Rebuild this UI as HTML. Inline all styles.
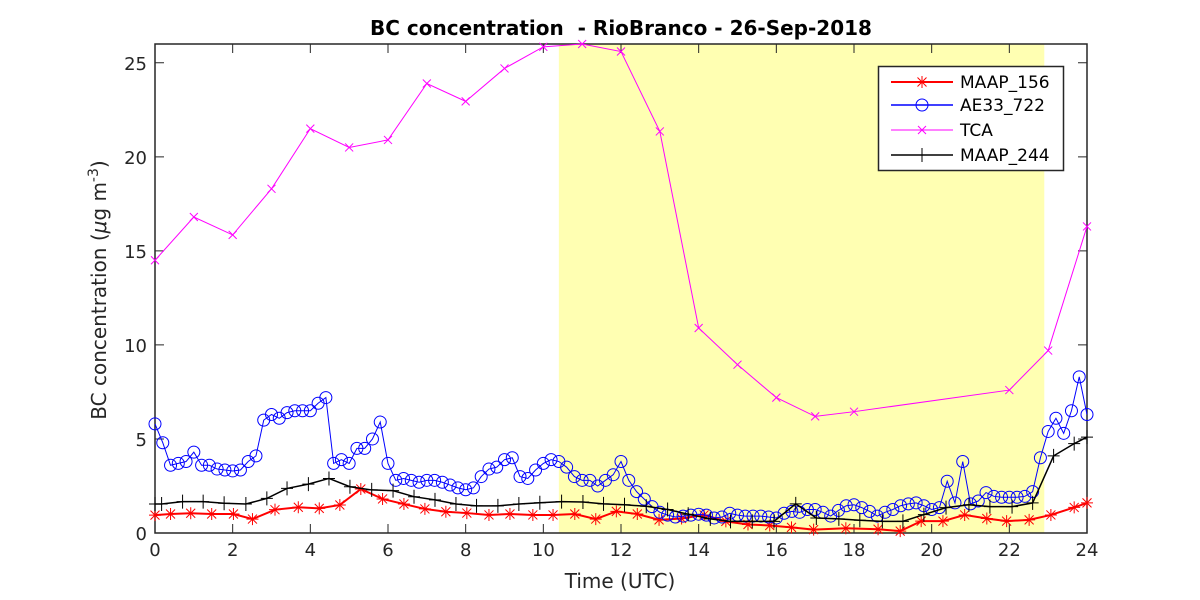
<!DOCTYPE html>
<html><head><meta charset="utf-8"><style>
html,body{margin:0;padding:0;background:#fff;}
svg{display:block;font-family:"DejaVu Sans","Liberation Sans",sans-serif;}
</style></head><body>
<svg id="chart" width="1200" height="600" viewBox="0 0 1200 600" xmlns="http://www.w3.org/2000/svg">
<rect x="0" y="0" width="1200" height="600" fill="#fff"/>
<text x="621" y="35" text-anchor="middle" font-size="20" font-weight="bold">BC concentration &#160;- RioBranco - 26-Sep-2018</text>
<g id="shade"></g>
<g id="axes"></g>
<g id="series"></g>
<text x="620" y="588" text-anchor="middle" font-size="20" fill="#262626">Time (UTC)</text>
<text transform="translate(106,290) rotate(-90)" text-anchor="middle" font-size="20" fill="#262626">BC concentration (<tspan font-style="italic">μ</tspan>g m<tspan dy="-8" font-size="14">-3</tspan><tspan dy="8">)</tspan></text>
<g id="legend"></g>
</svg>
<script>
const xTicks=[0,2,4,6,8,10,12,14,16,18,20,22,24];
const yTicks=[0,5,10,15,20,25];
const shadeRange=[10.4,22.9];
const tBlue=[0,0.2,0.4,0.6,0.8,1,1.2,1.4,1.6,1.8,2,2.2,2.4,2.6,2.8,3,3.2,3.4,3.6,3.8,4,4.2,4.4,4.6,4.8,5,5.2,5.4,5.6,5.8,6,6.2,6.4,6.6,6.8,7,7.2,7.4,7.6,7.8,8,8.2,8.4,8.6,8.8,9,9.2,9.4,9.6,9.8,10,10.2,10.4,10.6,10.8,11,11.2,11.4,11.6,11.8,12,12.2,12.4,12.6,12.8,13,13.2,13.4,13.6,13.8,14,14.2,14.4,14.6,14.8,15,15.2,15.4,15.6,15.8,16,16.2,16.4,16.6,16.8,17,17.2,17.4,17.6,17.8,18,18.2,18.4,18.6,18.8,19,19.2,19.4,19.6,19.8,20,20.2,20.4,20.6,20.8,21,21.2,21.4,21.6,21.8,22,22.2,22.4,22.6,22.8,23,23.2,23.4,23.6,23.8,24];
const vBlue=[5.8,4.8,3.6,3.7,3.8,4.3,3.6,3.6,3.4,3.35,3.3,3.35,3.8,4.1,6.0,6.3,6.1,6.4,6.5,6.5,6.5,6.9,7.2,3.7,3.9,3.7,4.5,4.5,5.0,5.9,3.7,2.8,2.9,2.8,2.7,2.8,2.8,2.7,2.55,2.4,2.3,2.4,3.0,3.4,3.5,3.9,4.0,3.0,2.9,3.35,3.7,3.9,3.8,3.5,3.0,2.8,2.8,2.5,2.8,3.1,3.8,2.8,2.2,1.8,1.4,1.1,0.95,0.85,0.9,0.95,1.0,0.95,0.8,0.85,1.05,0.95,0.9,0.9,0.9,0.85,0.8,1.05,1.15,1.1,1.25,1.25,1.1,0.9,1.2,1.45,1.5,1.35,1.15,0.9,1.1,1.25,1.45,1.55,1.6,1.45,1.25,1.35,2.75,1.6,3.8,1.55,1.7,2.15,1.95,1.9,1.9,1.9,1.95,2.2,4.0,5.4,6.1,5.3,6.5,8.3,6.3];
const tRed=[0,0.4,0.92,1.46,2.02,2.51,3.09,3.69,4.23,4.76,5.3,5.86,6.41,6.95,7.49,8.03,8.6,9.14,9.73,10.25,10.81,11.35,11.88,12.42,12.98,13.56,14.14,14.7,15.27,15.83,16.39,16.96,17.79,18.62,19.19,19.73,20.29,20.85,21.42,21.93,22.51,23.07,23.67,24];
const vRed=[0.95,1.01,1.05,1.01,1.01,0.74,1.24,1.37,1.31,1.49,2.34,1.81,1.54,1.28,1.13,1.06,0.96,1.01,0.96,0.96,1.01,0.74,1.15,1.01,0.7,0.77,0.96,0.62,0.45,0.4,0.3,0.18,0.25,0.2,0.1,0.63,0.63,0.96,0.77,0.63,0.7,0.96,1.36,1.6];
const tTca=[0,1,2,3,4,5,6,7,8,9,10,11,12,13,14,15,16,17,18,22,23,24];
const vTca=[14.5,16.8,15.85,18.3,21.5,20.5,20.9,23.9,22.95,24.7,25.85,26,25.6,21.35,10.9,8.95,7.2,6.2,6.45,7.6,9.7,16.3];
const tBlack=[0,0.17,0.71,1.24,1.78,2.34,2.88,3.4,3.95,4.48,5.02,5.58,6.13,6.67,7.21,7.75,8.28,8.83,9.37,9.91,10.47,11.02,11.55,12.09,12.65,13.2,13.73,14.3,14.82,15.38,15.94,16.5,17.03,17.61,18.15,18.73,19.26,19.8,20.37,20.96,21.5,22.07,22.6,23.14,23.67,24];
const vBlack=[1.54,1.54,1.67,1.67,1.58,1.54,1.84,2.37,2.6,2.9,2.46,2.29,2.25,1.93,1.76,1.54,1.44,1.44,1.54,1.61,1.67,1.65,1.55,1.5,1.42,1.25,1.0,0.75,0.62,0.62,0.62,1.55,0.8,0.75,0.68,0.62,0.62,0.98,1.35,1.5,1.4,1.4,1.6,4.1,4.75,5.1];

const NS='http://www.w3.org/2000/svg';
const X0=155,X1=1087,Y0=533,Y1=44;
const xs=t=>X0+(t/24)*(X1-X0);
const ys=v=>Y0-(v/26)*(Y0-Y1);
function mk(tag,attrs,parent){const e=document.createElementNS(NS,tag);for(const k in attrs)e.setAttribute(k,attrs[k]);parent.appendChild(e);return e;}
const shade=document.getElementById('shade'),axes=document.getElementById('axes'),series=document.getElementById('series'),legend=document.getElementById('legend');

const sh=mk('rect',{x:xs(shadeRange[0]),y:Y1,width:xs(shadeRange[1])-xs(shadeRange[0]),height:Y0-Y1,fill:'#ffffb2'},shade);



xTicks.forEach(t=>{
  const l=mk('path',{d:`M${xs(t)},${Y0}v-9M${xs(t)},${Y1}v9`,stroke:'#262626','stroke-width':1},axes);
  
  
  const tx=mk('text',{x:xs(t),y:Y0+23,'text-anchor':'middle','font-size':18,fill:'#262626'},axes);
  tx.textContent=t;
  
  
});
yTicks.forEach(v=>{
  const l=mk('path',{d:`M${X0},${ys(v)}h9M${X1},${ys(v)}h-9`,stroke:'#262626','stroke-width':1},axes);
  
  
  const tx=mk('text',{x:X0-8,y:ys(v)+7,'text-anchor':'end','font-size':18,fill:'#262626'},axes);
  tx.textContent=v;
  
  
});
const box=mk('rect',{x:X0,y:Y1,width:X1-X0,height:Y0-Y1,fill:'none',stroke:'#262626','stroke-width':1.5},axes);



function marker(type,x,y,c,g){
  let d;
  if(type==='star')d=`M${x-6},${y}h12M${x},${y-6}v12M${x-4.5},${y-4.5}l9,9M${x-4.5},${y+4.5}l9,-9`;
  else if(type==='x')d=`M${x-4},${y-4}l8,8M${x-4},${y+4}l8,-8`;
  else if(type==='plus')d=`M${x-6},${y}h12M${x},${y-7}v14`;
  if(type==='circle'){const c1=mk('circle',{cx:x,cy:y,r:6,fill:'none',stroke:c,'stroke-width':1},g);return c1;}
  return mk('path',{d:d,stroke:c,'stroke-width':1,fill:'none'},g);
}
function drawSeries(name,ts,vs,color,w,type){
  const g=mk('g',{},series);
  
  
  const pts=ts.map((t,i)=>xs(t)+','+ys(vs[i])).join(' ');
  const pl=mk('polyline',{points:pts,fill:'none',stroke:color,'stroke-width':w},g);
  
  
  ts.forEach((t,i)=>{
    const m=marker(type,xs(t),ys(vs[i]),color,g);
    
    
  });
}
drawSeries('maap-156',tRed,vRed,'#ff0000',2,'star');
drawSeries('ae33-722',tBlue,vBlue,'#0000ff',1,'circle');
drawSeries('tca',tTca,vTca,'#ff00ff',1,'x');
drawSeries('maap-244',tBlack,vBlack,'#000000',1.5,'plus');

const lb=mk('rect',{x:878.5,y:66.5,width:185,height:104,fill:'#fff',stroke:'#262626','stroke-width':1.5},legend);


const entries=[['MAAP_156','#ff0000',2,'star'],['AE33_722','#0000ff',1.5,'circle'],['TCA','#ff00ff',1,'x'],['MAAP_244','#000000',1.5,'plus']];
const ey=[82,105,130,155];
entries.forEach((e,i)=>{
  const g=mk('g',{},legend);
  
  
  mk('line',{x1:891,x2:953,y1:ey[i],y2:ey[i],stroke:e[1],'stroke-width':e[2]},g);
  marker(e[3],922,ey[i],e[1],g);
  const tx=mk('text',{x:960,y:ey[i]+6,'font-size':17,fill:'#000'},g);
  tx.textContent=e[0];
});
</script>
</body></html>
